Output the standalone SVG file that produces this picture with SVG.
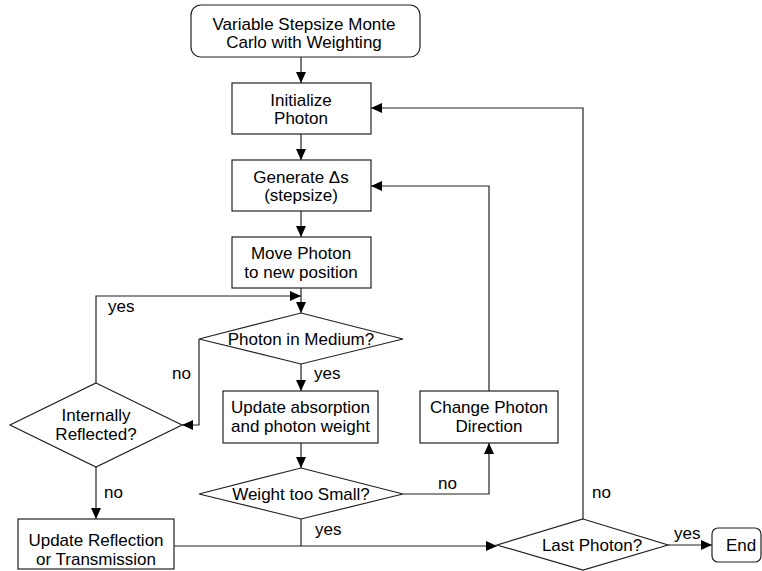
<svg xmlns="http://www.w3.org/2000/svg" width="762" height="571" viewBox="0 0 762 571">
<style>
.box{fill:#fff;stroke:#222;stroke-width:1.2}
.t{font-family:"Liberation Sans",Arial,sans-serif;font-size:17px;fill:#000;text-anchor:middle}
.l{font-family:"Liberation Sans",Arial,sans-serif;font-size:17px;fill:#000}
.c{fill:none;stroke:#222;stroke-width:1.2}
</style>
<defs>
<marker id="ah" markerWidth="12" markerHeight="10" refX="11" refY="5" orient="auto" markerUnits="userSpaceOnUse">
<path d="M0,0 L11,5 L0,10 Z" fill="#000"/>
</marker>
</defs>
<rect width="762" height="571" fill="#fff"/>
<g id="connectors">
<path class="c" d="M301,57 V83" marker-end="url(#ah)"/>
<path class="c" d="M301,134 V160" marker-end="url(#ah)"/>
<path class="c" d="M301,211 V237" marker-end="url(#ah)"/>
<path class="c" d="M301,288 V313" marker-end="url(#ah)"/>
<path class="c" d="M301,364 V391" marker-end="url(#ah)"/>
<path class="c" d="M199,339 V425 H182" marker-end="url(#ah)"/>
<path class="c" d="M96,383 V296 H301" marker-end="url(#ah)"/>
<path class="c" d="M96,467 V519" marker-end="url(#ah)"/>
<path class="c" d="M301,443 V468" marker-end="url(#ah)"/>
<path class="c" d="M403,494 H489 V443" marker-end="url(#ah)"/>
<path class="c" d="M489,391 V186 H371" marker-end="url(#ah)"/>
<path class="c" d="M301,519 V546"/>
<path class="c" d="M174,546 H497" marker-end="url(#ah)"/>
<path class="c" d="M583,519 V108 H371" marker-end="url(#ah)"/>
<path class="c" d="M668,545 H712" marker-end="url(#ah)"/>
<text class="l" x="314" y="379">yes</text>
<text class="l" x="172" y="379">no</text>
<text class="l" x="108" y="312">yes</text>
<text class="l" x="104" y="498">no</text>
<text class="l" x="438" y="489">no</text>
<text class="l" x="315" y="535">yes</text>
<text class="l" x="592" y="498">no</text>
<text class="l" x="674" y="539">yes</text>
</g>
<g id="start">
<rect class="box" x="191" y="5" width="229" height="52" rx="10"/>
<text class="t" x="304" y="30">Variable Stepsize Monte</text>
<text class="t" x="304" y="48">Carlo with Weighting</text>
</g>
<g id="init">
<rect class="box" x="232" y="83" width="139" height="51"/>
<text class="t" x="301" y="106">Initialize</text>
<text class="t" x="301" y="124">Photon</text>
</g>
<g id="generate">
<rect class="box" x="232" y="160" width="139" height="51"/>
<text class="t" x="301" y="183">Generate Δs</text>
<text class="t" x="301" y="201">(stepsize)</text>
</g>
<g id="move">
<rect class="box" x="232" y="237" width="139" height="51"/>
<text class="t" x="301" y="259">Move Photon</text>
<text class="t" x="301" y="278">to new position</text>
</g>
<g id="medium">
<polygon class="box" points="301,313 403,339 301,364 199,339"/>
<text class="t" x="301" y="345">Photon in Medium?</text>
</g>
<g id="absorption">
<rect class="box" x="223" y="391" width="155" height="52"/>
<text class="t" x="300.5" y="413">Update absorption</text>
<text class="t" x="300.5" y="432">and photon weight</text>
</g>
<g id="weight">
<polygon class="box" points="301,468 403,494 301,519 199,494"/>
<text class="t" x="301" y="500">Weight too Small?</text>
</g>
<g id="change">
<rect class="box" x="420" y="391" width="138" height="52"/>
<text class="t" x="489" y="413">Change Photon</text>
<text class="t" x="489" y="432">Direction</text>
</g>
<g id="reflected">
<polygon class="box" points="96,383 182,425 96,467 10,425"/>
<text class="t" x="96" y="421">Internally</text>
<text class="t" x="96" y="440">Reflected?</text>
</g>
<g id="reflection">
<rect class="box" x="18" y="519" width="156" height="50"/>
<text class="t" x="96" y="546">Update Reflection</text>
<text class="t" x="96" y="565">or Transmission</text>
</g>
<g id="last">
<polygon class="box" points="583,519 668,545 583,570 497,545"/>
<text class="t" x="592" y="551">Last Photon?</text>
</g>
<g id="end">
<rect class="box" x="712" y="528" width="49" height="34" rx="6"/>
<text class="t" x="741" y="551">End</text>
</g>
</svg>
